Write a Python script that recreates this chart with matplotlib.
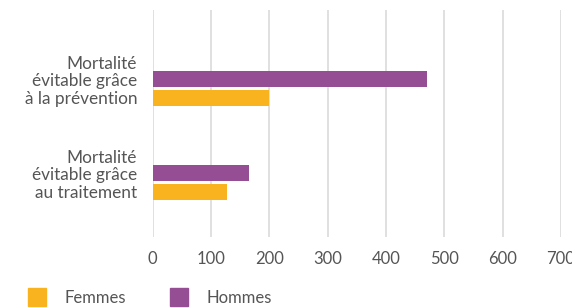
import numpy as np
import matplotlib
matplotlib.use("Agg")
import matplotlib.pyplot as plt
from matplotlib.patches import Patch

plt.rcParams["font.family"] = ["Lato", "DejaVu Sans"]

# data
categories = ["Mortalité\névitable grâce\nà la prévention",
              "Mortalité\névitable grâce\nau traitement"]
hommes = [470, 166]
femmes = [199, 128]

purple = "#954E94"
orange = "#F9B31F"
text_col = "#555555"


def make_chart() -> None:
    fig = plt.figure(figsize=(5.72, 3.08), dpi=100)
    ax = fig.add_axes([152.5 / 572, 1 - 237 / 308, (561 - 152.5) / 572, 227 / 308])

    y = np.arange(len(categories))
    h = 0.17
    ax.barh(y, hommes, height=h, color=purple, zorder=3)
    ax.barh(y + 0.205, femmes, height=h, color=orange, zorder=3)

    ax.set_xlim(0, 700)
    ax.set_ylim(1.68, -0.735)
    ax.set_xticks(range(0, 701, 100))
    ax.set_yticks(y)
    ax.set_yticklabels(categories, linespacing=1.12, ha="right")
    ax.tick_params(axis="x", length=0, pad=10, labelsize=12, labelcolor=text_col)
    ax.tick_params(axis="y", length=0, pad=11, labelsize=12.4, labelcolor=text_col)
    ax.grid(axis="x", color="#dddddd", linewidth=1.3, zorder=0)
    for s in ax.spines.values():
        s.set_visible(False)

    handles = [Patch(color=orange, label="Femmes"), Patch(color=purple, label="Hommes")]
    fig.legend(handles=handles, loc="center left", ncol=2, frameon=False,
               bbox_to_anchor=(28 / 572, 1 - 297 / 308), borderpad=0, borderaxespad=0,
               handlelength=1.1, handleheight=1.25, handletextpad=1.1, columnspacing=2.6,
               fontsize=12, labelcolor=text_col)

    fig.savefig("out.png", dpi=100)


if __name__ == "__main__":
    make_chart()
